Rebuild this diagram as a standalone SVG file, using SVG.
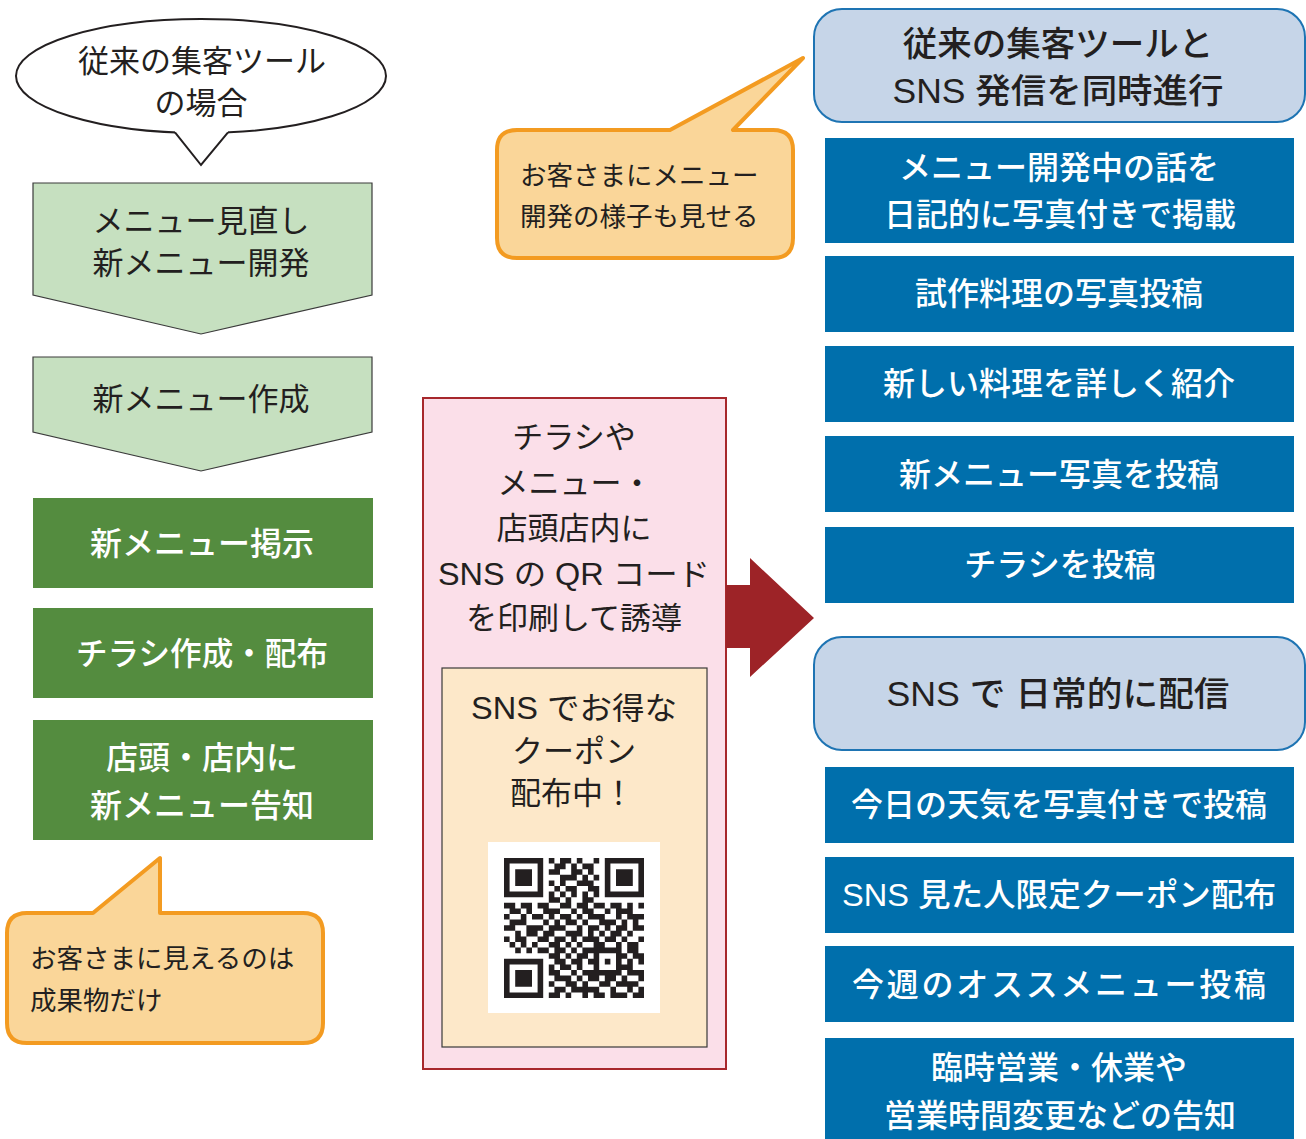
<svg xmlns="http://www.w3.org/2000/svg" width="1306" height="1139" viewBox="0 0 1306 1139">
<style>
text{font-family:"Liberation Sans","Noto Sans CJK JP",sans-serif;text-anchor:middle;}
.dk{fill:#231f20;font-size:31px;}
.wt{fill:#ffffff;font-size:32px;font-weight:500;}
.hd{fill:#231f20;font-size:34.5px;font-weight:500;}
.co{fill:#231f20;font-size:26.5px;text-anchor:start;}
.lg{fill:#c6e0c0;stroke:#3a3a3a;stroke-width:1.2;}
.dg{fill:#548c3f;}
.bl{fill:#006fac;}
.hb{fill:#c6d5e8;stroke:#1e74b3;stroke-width:2;}
.cl{fill:#fad699;stroke:#f39b21;stroke-width:4;stroke-linejoin:round;}
</style>
<rect width="1306" height="1139" fill="#ffffff"/>

<g id="title-bubble">
<ellipse cx="201" cy="76" rx="185" ry="57" fill="#ffffff" stroke="#231f20" stroke-width="2"/>
<polygon points="175,128 228,128 228,132.3 201,165 175,132.4" fill="#ffffff"/>
<polyline points="175,132.4 201,165 228,132.3" fill="none" stroke="#231f20" stroke-width="2" stroke-linejoin="miter"/>
<text class="dk" x="202" y="72">従来の集客ツール</text>
<text class="dk" x="201" y="114">の場合</text>
</g>

<g id="step-review">
<polygon class="lg" points="33,183 372,183 372,295 201,334 33,295"/>
<text class="dk" x="201" y="232">メニュー見直し</text>
<text class="dk" x="201" y="274">新メニュー開発</text>
</g>

<g id="step-create">
<polygon class="lg" points="33,357 372,357 372,432 201,471 33,432"/>
<text class="dk" x="201" y="410">新メニュー作成</text>
</g>

<g id="step-post">
<rect class="dg" x="33" y="498" width="340" height="90"/>
<text class="wt" x="202" y="555">新メニュー掲示</text>
</g>

<g id="step-flyer">
<rect class="dg" x="33" y="608" width="340" height="90"/>
<text class="wt" x="202" y="665" textLength="252" lengthAdjust="spacingAndGlyphs">チラシ作成・配布</text>
</g>

<g id="step-notice">
<rect class="dg" x="33" y="720" width="340" height="120"/>
<text class="wt" x="202" y="769">店頭・店内に</text>
<text class="wt" x="202" y="817">新メニュー告知</text>
</g>

<g id="callout-result">
<path class="cl" d="M93 913 L160 858 L160 913 L303 913 Q323 913 323 933 L323 1023 Q323 1043 303 1043 L27 1043 Q7 1043 7 1023 L7 933 Q7 913 27 913 Z"/>
<text class="co" x="30" y="968">お客さまに見えるのは</text>
<text class="co" x="30" y="1010">成果物だけ</text>
</g>

<g id="callout-process">
<path class="cl" d="M670 130 L803 58 L733 130 L773 130 Q793 130 793 150 L793 238 Q793 258 773 258 L517 258 Q497 258 497 238 L497 150 Q497 130 517 130 Z"/>
<text class="co" x="520" y="185">お客さまにメニュー</text>
<text class="co" x="520" y="226">開発の様子も見せる</text>
</g>

<g id="qr-panel">
<rect x="423" y="398" width="303" height="671" fill="#fbdfe9" stroke="#a7282c" stroke-width="2"/>
<text class="dk" x="574" y="448">チラシや</text>
<text class="dk" x="575" y="494">メニュー・</text>
<text class="dk" x="574" y="539">店頭店内に</text>
<text class="dk" x="574" y="585" textLength="272" lengthAdjust="spacingAndGlyphs">SNS の QR コード</text>
<text class="dk" x="574" y="629">を印刷して誘導</text>
<g id="coupon-card">
<rect x="442" y="668" width="265" height="379" fill="#fde8c9" stroke="#3a3a3a" stroke-width="1.2"/>
<text class="dk" x="574" y="719" textLength="206" lengthAdjust="spacingAndGlyphs">SNS でお得な</text>
<text class="dk" x="574" y="762">クーポン</text>
<text class="dk" x="572" y="804">配布中！</text>
<rect x="488" y="842" width="172" height="171" fill="#ffffff"/>
<path fill="#231f20" transform="translate(504,858) scale(5.6)" d="M0 0h7v1h-7z M8 0h1v1h-1z M10 0h2v1h-2z M13 0h1v1h-1z M16 0h1v1h-1z M18 0h7v1h-7z
M0 1h1v1h-1z M6 1h1v1h-1z M9 1h2v1h-2z M12 1h1v1h-1z M14 1h2v1h-2z M18 1h1v1h-1z M24 1h1v1h-1z
M0 2h1v1h-1z M2 2h3v1h-3z M6 2h1v1h-1z M8 2h2v1h-2z M12 2h2v1h-2z M15 2h1v1h-1z M18 2h1v1h-1z M20 2h3v1h-3z M24 2h1v1h-1z
M0 3h1v1h-1z M2 3h3v1h-3z M6 3h1v1h-1z M10 3h3v1h-3z M14 3h1v1h-1z M16 3h1v1h-1z M18 3h1v1h-1z M20 3h3v1h-3z M24 3h1v1h-1z
M0 4h1v1h-1z M2 4h3v1h-3z M6 4h1v1h-1z M8 4h1v1h-1z M10 4h1v1h-1z M13 4h3v1h-3z M18 4h1v1h-1z M20 4h3v1h-3z M24 4h1v1h-1z
M0 5h1v1h-1z M6 5h1v1h-1z M9 5h1v1h-1z M11 5h2v1h-2z M15 5h2v1h-2z M18 5h1v1h-1z M24 5h1v1h-1z
M0 6h7v1h-7z M8 6h1v1h-1z M10 6h1v1h-1z M12 6h1v1h-1z M14 6h1v1h-1z M16 6h1v1h-1z M18 6h7v1h-7z
M8 7h2v1h-2z M11 7h1v1h-1z M14 7h2v1h-2z
M0 8h2v1h-2z M3 8h2v1h-2z M6 8h2v1h-2z M10 8h2v1h-2z M13 8h2v1h-2z M16 8h2v1h-2z M19 8h2v1h-2z M22 8h1v1h-1z M24 8h1v1h-1z
M1 9h2v1h-2z M4 9h1v1h-1z M7 9h3v1h-3z M12 9h1v1h-1z M14 9h2v1h-2z M18 9h1v1h-1z M20 9h3v1h-3z
M0 10h1v1h-1z M3 10h1v1h-1z M5 10h2v1h-2z M8 10h1v1h-1z M10 10h2v1h-2z M13 10h1v1h-1z M15 10h3v1h-3z M20 10h1v1h-1z M22 10h3v1h-3z
M1 11h3v1h-3z M7 11h1v1h-1z M9 11h1v1h-1z M11 11h2v1h-2z M14 11h1v1h-1z M17 11h3v1h-3z M21 11h1v1h-1z M23 11h1v1h-1z
M0 12h2v1h-2z M4 12h3v1h-3z M8 12h3v1h-3z M13 12h1v1h-1z M15 12h2v1h-2z M18 12h1v1h-1z M20 12h2v1h-2z M23 12h2v1h-2z
M2 13h1v1h-1z M4 13h2v1h-2z M7 13h2v1h-2z M11 13h3v1h-3z M15 13h1v1h-1z M17 13h1v1h-1z M19 13h2v1h-2z M22 13h1v1h-1z
M0 14h1v1h-1z M2 14h2v1h-2z M6 14h2v1h-2z M9 14h2v1h-2z M12 14h1v1h-1z M14 14h3v1h-3z M18 14h2v1h-2z M21 14h1v1h-1z M24 14h1v1h-1z
M1 15h1v1h-1z M3 15h1v1h-1z M5 15h1v1h-1z M8 15h2v1h-2z M11 15h1v1h-1z M13 15h1v1h-1z M16 15h2v1h-2z M20 15h1v1h-1z M22 15h2v1h-2z
M2 16h1v1h-1z M4 16h1v1h-1z M6 16h2v1h-2z M9 16h2v1h-2z M12 16h1v1h-1z M14 16h7v1h-7z M22 16h2v1h-2z
M8 17h2v1h-2z M11 17h1v1h-1z M13 17h2v1h-2z M16 17h1v1h-1z M20 17h2v1h-2z M23 17h2v1h-2z
M0 18h7v1h-7z M9 18h2v1h-2z M12 18h2v1h-2z M15 18h2v1h-2z M18 18h1v1h-1z M20 18h1v1h-1z M22 18h1v1h-1z M24 18h1v1h-1z
M0 19h1v1h-1z M6 19h1v1h-1z M8 19h1v1h-1z M10 19h2v1h-2z M13 19h1v1h-1z M16 19h1v1h-1z M20 19h3v1h-3z
M0 20h1v1h-1z M2 20h3v1h-3z M6 20h1v1h-1z M8 20h2v1h-2z M12 20h1v1h-1z M14 20h7v1h-7z M22 20h3v1h-3z
M0 21h1v1h-1z M2 21h3v1h-3z M6 21h1v1h-1z M9 21h3v1h-3z M13 21h1v1h-1z M15 21h2v1h-2z M18 21h2v1h-2z M21 21h1v1h-1z M24 21h1v1h-1z
M0 22h1v1h-1z M2 22h3v1h-3z M6 22h1v1h-1z M8 22h1v1h-1z M11 22h2v1h-2z M14 22h1v1h-1z M17 22h2v1h-2z M20 22h4v1h-4z
M0 23h1v1h-1z M6 23h1v1h-1z M9 23h2v1h-2z M12 23h5v1h-5z M19 23h1v1h-1z M22 23h1v1h-1z M24 23h1v1h-1z
M0 24h7v1h-7z M8 24h2v1h-2z M11 24h1v1h-1z M14 24h1v1h-1z M16 24h2v1h-2z M19 24h3v1h-3z M23 24h2v1h-2z"/>
</g>
</g>

<g id="connectors">
<polygon points="726,585 750,585 750,558 814,618 750,677 750,648 726,648" fill="#9d2327"/>
</g>

<g id="header-parallel">
<rect class="hb" x="814" y="9" width="491" height="113" rx="28"/>
<text class="hd" x="1058" y="56">従来の集客ツールと</text>
<text class="hd" x="1058" y="103" textLength="331" lengthAdjust="spacingAndGlyphs">SNS 発信を同時進行</text>
</g>

<g id="post-diary">
<rect class="bl" x="825" y="138" width="469" height="105"/>
<text class="wt" x="1059" y="179">メニュー開発中の話を</text>
<text class="wt" x="1060" y="226">日記的に写真付きで掲載</text>
</g>
<g id="post-trial">
<rect class="bl" x="825" y="256" width="469" height="76"/>
<text class="wt" x="1059" y="305">試作料理の写真投稿</text>
</g>
<g id="post-intro">
<rect class="bl" x="825" y="346" width="469" height="76"/>
<text class="wt" x="1059" y="395">新しい料理を詳しく紹介</text>
</g>
<g id="post-newmenu">
<rect class="bl" x="825" y="436" width="469" height="76"/>
<text class="wt" x="1059" y="486">新メニュー写真を投稿</text>
</g>
<g id="post-flyer">
<rect class="bl" x="825" y="527" width="469" height="76"/>
<text class="wt" x="1060" y="576">チラシを投稿</text>
</g>

<g id="header-daily">
<rect class="hb" x="814" y="637" width="491" height="113" rx="28"/>
<text class="hd" x="1058" y="706" textLength="343" lengthAdjust="spacingAndGlyphs">SNS で 日常的に配信</text>
</g>

<g id="post-weather">
<rect class="bl" x="825" y="767" width="469" height="76"/>
<text class="wt" x="1059" y="816">今日の天気を写真付きで投稿</text>
</g>
<g id="post-coupon">
<rect class="bl" x="825" y="857" width="469" height="76"/>
<text class="wt" x="1059" y="906" textLength="434" lengthAdjust="spacingAndGlyphs">SNS 見た人限定クーポン配布</text>
</g>
<g id="post-weekly">
<rect class="bl" x="825" y="946" width="469" height="76"/>
<text class="wt" x="1059" y="996" textLength="414" lengthAdjust="spacing">今週のオススメニュー投稿</text>
</g>
<g id="post-hours">
<rect class="bl" x="825" y="1038" width="469" height="101"/>
<text class="wt" x="1059" y="1079">臨時営業・休業や</text>
<text class="wt" x="1060" y="1127">営業時間変更などの告知</text>
</g>
</svg>
